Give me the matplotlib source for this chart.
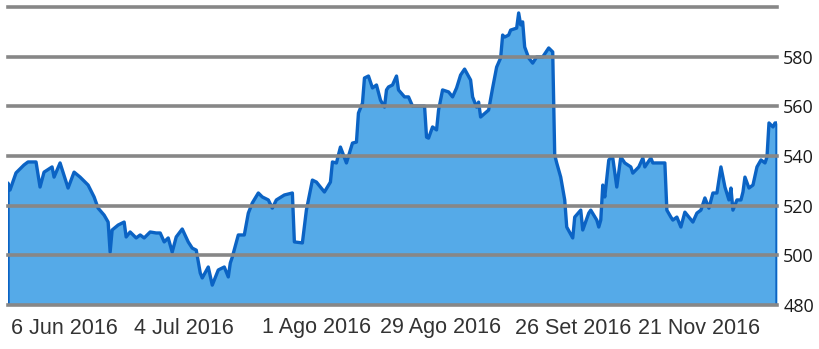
#!/usr/bin/env python3
"""
Area chart of a daily price series, Jun - Dec 2016,
with the price scale on the right side.
"""

import numpy as np
import matplotlib
matplotlib.use('Agg')
import matplotlib.pyplot as plt

# trading session number and closing price
session = [
    0, 1, 4, 8, 10, 14, 16, 18, 22, 23, 26, 30, 33, 36, 40, 43, 45, 48, 50,
    51, 52, 55, 58, 59, 61, 64, 66, 68, 71, 74, 76, 78, 80, 82, 84, 87, 90,
    92, 94, 96, 97, 100, 102, 105, 108, 110, 111, 112, 115, 118, 120, 122,
    125, 127, 130, 132, 134, 138, 142, 143, 147, 149, 152, 154, 158, 161,
    162, 164, 166, 169, 172, 174, 175, 177, 178, 180, 182, 184, 186, 188,
    189, 190, 192, 194, 195, 198, 200, 202, 208, 209, 210, 212, 214, 215,
    217, 220, 222, 224, 226, 228, 231, 232, 234, 235, 236, 240, 242, 244,
    246, 247, 248, 250, 251, 254, 255, 256, 257, 258, 260, 262, 264, 267,
    270, 272, 273, 274, 276, 278, 279, 282, 283, 286, 287, 290, 291, 294,
    295, 296, 297, 298, 300, 301, 302, 304, 306, 308, 311, 312, 315, 317,
    318, 321, 322, 326, 328, 329, 331, 332, 334, 336, 338, 340, 342, 344,
    346, 348, 350, 352, 354, 356, 358, 360, 361, 362, 364, 366, 367, 368,
    370, 372, 374, 376, 378, 379, 380, 382, 383, 384,
]
price = [
    529.1, 526.3, 533.2, 536.4, 537.6, 537.6, 527.5, 533.5, 535.6, 531.5,
    537.2, 527.1, 533.5, 531.5, 528.3, 523.5, 519.0, 516.2, 513.4, 501.3,
    510.2, 512.2, 513.4, 507.4, 509.4, 507.0, 508.2, 507.0, 509.4, 509.0,
    509.0, 505.4, 507.0, 501.3, 507.4, 510.6, 505.4, 502.9, 502.1, 492.9,
    490.9, 495.3, 488.0, 494.1, 495.3, 491.3, 496.9, 499.3, 508.2, 508.2,
    517.0, 521.1, 525.1, 523.5, 522.3, 519.0, 522.3, 524.3, 525.1, 505.4,
    505.0, 518.2, 530.3, 529.5, 525.5, 529.5, 537.6, 537.2, 543.6, 537.2,
    545.2, 545.6, 557.3, 561.3, 571.4, 572.2, 567.4, 568.6, 562.5, 559.7,
    566.6, 567.8, 568.6, 572.2, 566.6, 563.8, 563.8, 560.1, 560.1, 547.6,
    547.2, 551.7, 550.5, 558.5, 566.6, 565.8, 563.8, 567.4, 572.6, 575.0,
    570.6, 563.8, 559.7, 561.7, 555.7, 558.5, 567.4, 575.8, 579.5, 588.7,
    587.9, 588.7, 590.7, 591.5, 597.6, 592.8, 594.0, 583.9, 579.5, 577.4,
    579.9, 579.9, 583.5, 581.9, 540.4, 537.2, 531.5, 522.3, 511.4, 507.0,
    515.4, 518.2, 510.2, 517.0, 518.2, 514.2, 511.4, 514.2, 528.3, 523.5,
    538.4, 539.2, 539.2, 527.5, 539.6, 537.2, 535.6, 533.1, 535.6, 539.2,
    535.6, 539.2, 537.2, 537.2, 537.2, 518.2, 515.4, 514.2, 515.4, 511.4,
    517.4, 515.4, 513.4, 517.0, 518.2, 523.1, 519.0, 525.1, 525.1, 535.6,
    527.5, 522.3, 527.1, 518.2, 522.3, 522.3, 525.5, 531.5, 527.1, 528.3,
    535.6, 538.4, 537.2, 539.6, 553.3, 551.7, 553.3, 553.3,
]

tick_session = [28, 88, 154, 216, 282, 345]
tick_labels = ['6 Jun 2016', '4 Jul 2016', '1 Ago 2016',
               '29 Ago 2016', '26 Set 2016', '21 Nov 2016']
y_ticks = [480, 500, 520, 540, 560, 580, 600]
y_labels = ['480', '500', '520', '540', '560', '580', '']

LINE = '#0b63c4'
FILL = '#55aae8'
GRID = '#878787'

fig = plt.figure(figsize=(8.2, 3.49), dpi=100)
ax = fig.add_axes([8 / 820, 44 / 349, 769 / 820, 298 / 349])

x = np.array(session)
y = np.array(price)
base = y_ticks[0]

# filled area, then the outline including the two vertical ends
ax.fill_between(x, y, base, color=FILL, linewidth=0, zorder=1)
ax.plot(np.r_[x[0], x, x[-1]], np.r_[base, y, base],
        color=LINE, linewidth=2.4, solid_joinstyle='round', zorder=2)

# thick grey gridlines drawn over the area
for v in y_ticks:
    ax.axhline(v, color=GRID, linewidth=2.6, zorder=3, clip_on=False)

ax.set_xlim(x[0], x[-1])
ax.set_ylim(y_ticks[0], y_ticks[-1])

ax.set_xticks(tick_session)
ax.set_xticklabels(tick_labels, fontsize=15.5, color='#333333',
                   family='Liberation Sans')
ax.yaxis.tick_right()
ax.set_yticks(y_ticks)
ax.set_yticklabels(y_labels, fontsize=13, color='#1a1a1a',
                   family='Open Sans')
ax.tick_params(axis='x', length=0, pad=9)
ax.tick_params(axis='y', length=0, pad=4.5)

for s in ax.spines.values():
    s.set_visible(False)

fig.savefig('out.png', dpi=100)
